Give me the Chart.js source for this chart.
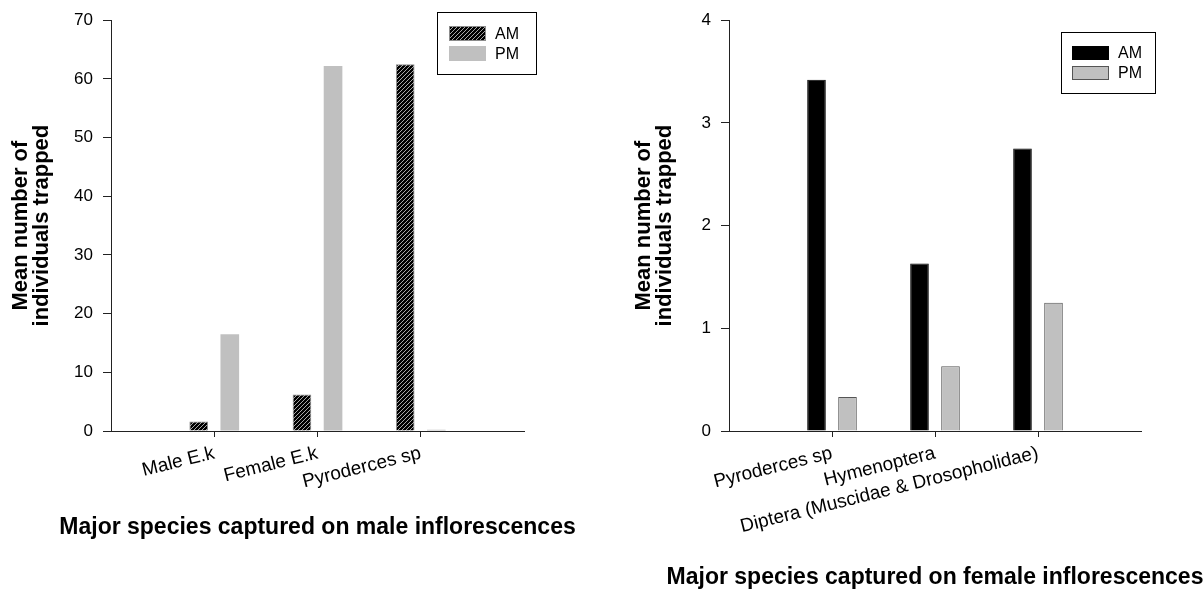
<!DOCTYPE html>
<html>
<head>
<meta charset="utf-8">
<script src="https://cdn.jsdelivr.net/npm/chart.js"></script>
<style>
  body { margin: 0; background: #fff; }
  #wrap { position: relative; width: 1203px; height: 592px; }
  #left { position: absolute; left: 0; top: 0; }
  #right { position: absolute; left: 600px; top: 0; }
</style>
</head>
<body>
<div id="wrap">
  <canvas id="left" width="600" height="592"></canvas>
  <canvas id="right" width="603" height="592"></canvas>
</div>
<script>
// data
const maleCats = ['Male E.k', 'Female E.k', 'Pyroderces sp'];
const maleAM = [1.6, 6.2, 62.5];
const malePM = [16.5, 62.2, 0.2];

const femaleCats = ['Pyroderces sp', 'Hymenoptera', 'Diptera (Muscidae & Drosopholidae)'];
const femaleAM = [3.42, 1.63, 2.75];
const femalePM = [0.33, 0.63, 1.25];

const seriesNames = ['AM', 'PM'];
const yTitle = ['Mean number of', 'individuals trapped'];
const maleXTitle = 'Major species captured on male inflorescences';
const femaleXTitle = 'Major species captured on female inflorescences';

const FONT = '"Liberation Sans", Arial, sans-serif';
Chart.defaults.font.family = FONT;
Chart.defaults.color = '#000';
Chart.defaults.animation = false;

// black with grey diagonal stripes
function hatch() {
    const c = document.createElement('canvas');
    c.width = 4; c.height = 4;
    const g = c.getContext('2d');
    g.fillStyle = '#000';
    g.fillRect(0, 0, 4, 4);
    g.strokeStyle = '#a8a8a8';
    g.lineWidth = 1;
    g.beginPath();
    g.moveTo(-1, 5); g.lineTo(5, -1);
    g.moveTo(-1, 1); g.lineTo(1, -1);
    g.moveTo(3, 5); g.lineTo(5, 3);
    g.stroke();
    return g.createPattern(c, 'repeat');
}

const toPoints = arr => arr.map((v, i) => ({ x: i + 1, y: v }));

// framed legend box + x title drawn without the scale's maxWidth squeeze
const extras = {
    id: 'extras',
    afterDraw(chart, args, o) {
        const ctx = chart.ctx;
        const area = chart.chartArea;
        ctx.save();
        ctx.font = 'bold 23px ' + FONT;
        ctx.fillStyle = '#000';
        ctx.textAlign = 'center';
        ctx.textBaseline = 'middle';
        ctx.fillText(o.title, (area.left + area.right) / 2, o.titleY);

        ctx.textAlign = 'left';
        ctx.strokeStyle = '#000';
        ctx.lineWidth = 1;
        ctx.strokeRect(o.x + 0.5, o.y + 0.5, o.w, o.h);
        ctx.font = '16px ' + FONT;
        chart.data.datasets.forEach((ds, i) => {
            const y = o.rows[i];
            ctx.fillStyle = ds.backgroundColor;
            ctx.fillRect(o.sx, y, o.sw, o.sh);
            if (ds.borderWidth) {
                ctx.strokeStyle = ds.borderColor;
                ctx.strokeRect(o.sx + 0.5, y + 0.5, o.sw - 1, o.sh - 1);
            }
            ctx.fillStyle = '#000';
            ctx.fillText(ds.label, o.tx, y + o.sh / 2 + 1);
        });
        ctx.restore();
    }
};

function makeOptions(cats, yMax, yStep, yWidth, padRight, yTitlePad, legend) {
    return {
        responsive: false,
        layout: { padding: { left: 0, right: padRight, top: 19, bottom: 0 } },
        categoryPercentage: 0.602,
        barPercentage: 0.6,
        plugins: {
            legend: { display: false },
            tooltip: { enabled: false },
            extras: legend
        },
        scales: {
            x: {
                type: 'linear',
                min: 0,
                max: 4,
                offset: false,
                afterBuildTicks: s => { s.ticks = cats.map((c, i) => ({ value: i + 1 })); },
                afterFit: s => { s.height = 592 - 431; },
                ticks: {
                    autoSkip: false,
                    minRotation: 14,
                    maxRotation: 14,
                    padding: 5,
                    font: { size: 19 },
                    callback: v => cats[v - 1]
                },
                grid: { offset: false, drawOnChartArea: false, tickLength: 6, color: '#222' },
                border: { color: '#222' }
            },
            y: {
                min: 0,
                max: yMax,
                afterFit: s => { s.width = yWidth; },
                ticks: { stepSize: yStep, padding: 10, font: { size: 17 } },
                grid: { drawOnChartArea: false, tickLength: 8, color: '#222' },
                border: { color: '#222' },
                title: {
                    display: true,
                    text: yTitle,
                    font: { size: 22, weight: 'bold', lineHeight: 0.95 },
                    padding: { top: yTitlePad, bottom: 0 }
                }
            }
        }
    };
}

const maleChart = new Chart(document.getElementById('left').getContext('2d'), {
    type: 'bar',
    data: {
        datasets: [{
            label: seriesNames[0],
            data: toPoints(maleAM),
            backgroundColor: hatch(),
            borderColor: '#8c8c8c',
            borderWidth: 1
        }, {
            label: seriesNames[1],
            data: toPoints(malePM),
            backgroundColor: '#c0c0c0',
            borderColor: '#d0d0d0',
            borderWidth: 0
        }]
    },
    options: makeOptions(maleCats, 70, 10, 111, 76, 10.5,
        { title: maleXTitle, titleY: 528,
          x: 437, y: 12, w: 99, h: 62, sx: 449, sw: 37, sh: 15, rows: [26, 46], tx: 495 }),
    plugins: [extras]
});

const femaleChart = new Chart(document.getElementById('right').getContext('2d'), {
    type: 'bar',
    data: {
        datasets: [{
            label: seriesNames[0],
            data: toPoints(femaleAM),
            backgroundColor: '#000',
            borderColor: '#000',
            borderWidth: 1
        }, {
            label: seriesNames[1],
            data: toPoints(femalePM),
            backgroundColor: '#c0c0c0',
            borderColor: '#555',
            borderWidth: 1
        }]
    },
    options: makeOptions(femaleCats, 4, 1, 129, 62, 33.5,
        { title: femaleXTitle, titleY: 578,
          x: 461, y: 32, w: 94, h: 61, sx: 472, sw: 37, sh: 14, rows: [46, 66], tx: 518 }),
    plugins: [extras]
});
</script>
</body>
</html>
